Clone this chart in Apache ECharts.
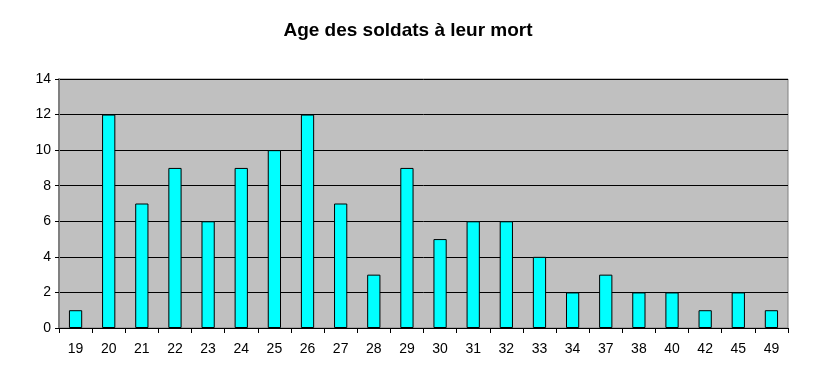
<!DOCTYPE html>
<html><head><meta charset="utf-8">
<script src="https://cdn.jsdelivr.net/npm/echarts@6/dist/echarts.min.js"></script>
<style>html,body{margin:0;padding:0;background:#fff}#c{width:816px;height:375px}</style>
</head><body><div id="c"></div>
<script>
var titleText = "Age des soldats à leur mort";
var categories = ["19","20","21","22","23","24","25","26","27","28","29","30","31","32","33","34","37","38","40","42","45","49"];
var values = [1,12,7,9,6,9,10,12,7,3,9,5,6,6,4,2,3,2,2,1,2,1];
var yTicks = {min:0, max:14, interval:2};

var chart = echarts.init(document.getElementById('c'), null, {renderer:'canvas'});
chart.setOption({
  animation:false,
  backgroundColor:'#fff',
  title:{text:titleText, left:'center', top:16,
    textStyle:{fontFamily:'Liberation Sans, Arial', fontSize:19, fontWeight:'bold', color:'#000'}},
  grid:{left:59, right:28, top:79, bottom:47, show:true, backgroundColor:'#c0c0c0', borderColor:'#808080', borderWidth:1},
  xAxis:{type:'category', data:categories,
    axisLine:{lineStyle:{color:'#000', width:1}},
    axisTick:{show:true, length:5, lineStyle:{color:'#000'}},
    axisLabel:{fontFamily:'Liberation Sans, Arial', fontSize:14, color:'#000', margin:14}},
  yAxis:{type:'value', min:yTicks.min, max:yTicks.max, interval:yTicks.interval,
    axisLine:{show:true, lineStyle:{color:'#808080', width:2}},
    axisTick:{show:true, length:4, lineStyle:{color:'#000'}},
    axisLabel:{fontFamily:'Liberation Sans, Arial', fontSize:14, color:'#000', margin:8}},
  series:[{type:'bar', data:values, barWidth:'40%',
    itemStyle:{color:'#00ffff', borderColor:'#000', borderWidth:1}}]
});
chart.setOption({yAxis:{splitLine:{show:true, lineStyle:{color:'#000', width:1}}}});
</script></body></html>
